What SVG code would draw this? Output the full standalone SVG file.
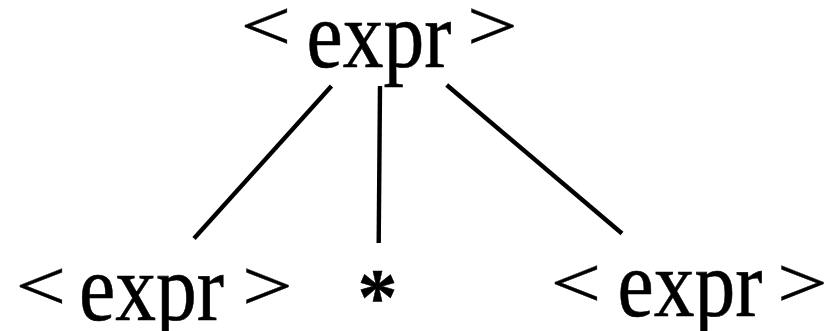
<svg xmlns="http://www.w3.org/2000/svg" width="831" height="331" viewBox="0 0 831 331">
<style>
.t{font-family:"Liberation Serif","Times New Roman",serif;font-size:80px;fill:#000;stroke:#000;stroke-width:0.5;text-anchor:middle}
.a{font-family:"Liberation Serif","Times New Roman",serif;font-size:90px;fill:#000;stroke:#000;stroke-width:0.5;text-anchor:middle}
.e{stroke:#000;stroke-width:4.4;fill:none}
</style>
<rect width="831" height="331" fill="#fff"/>
<g id="connectors">
<line class="e" x1="331.5" y1="86" x2="194" y2="238.5"/>
<line class="e" x1="380" y1="86" x2="378.7" y2="243"/>
<line class="e" x1="446.7" y1="85" x2="622" y2="233.5"/>
</g>
<g id="root">
<text class="a" transform="translate(266,49.5) scale(1,0.8)">&lt;</text>
<text class="t" transform="translate(379,67) scale(1.02,1.18)">expr</text>
<text class="a" transform="translate(492.5,49.5) scale(1,0.8)">&gt;</text>
</g>
<g id="left">
<text class="a" transform="translate(41,309.5) scale(1,0.8)">&lt;</text>
<text class="t" transform="translate(151.5,320) scale(1.02,1.18)">expr</text>
<text class="a" transform="translate(267.5,309.5) scale(1,0.8)">&gt;</text>
</g>
<g id="star"><text class="t" x="377.5" y="324" style="font-weight:bold">*</text></g>
<g id="right">
<text class="a" transform="translate(576,306.5) scale(1,0.8)">&lt;</text>
<text class="t" transform="translate(690,316) scale(1.02,1.18)">expr</text>
<text class="a" transform="translate(802.5,306.5) scale(1,0.8)">&gt;</text>
</g>
</svg>
